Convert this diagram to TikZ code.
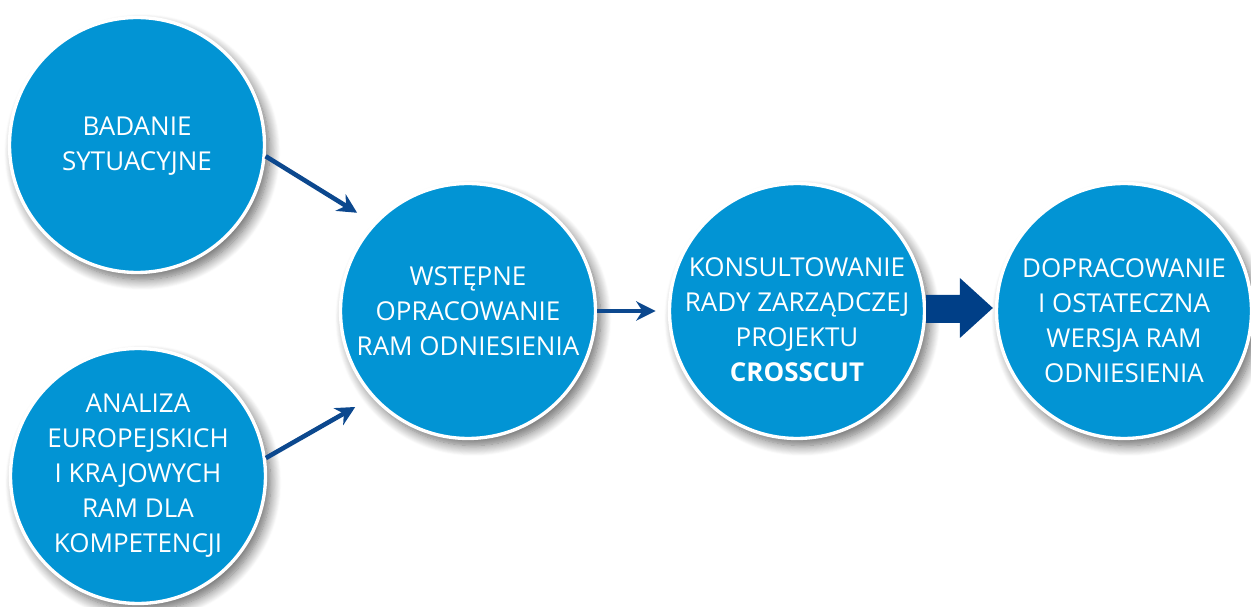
\documentclass[tikz,border=0pt]{standalone}
\usepackage{fontspec}
\setmainfont{Open Sans}
\usetikzlibrary{calc,arrows.meta,shadows.blur}
\definecolor{circblue}{RGB}{2,148,212}
\definecolor{navy}{RGB}{0,63,135}
\definecolor{linknavy}{RGB}{12,72,142}
\tikzset{
  circ/.style={circle, fill=circblue, draw=white, line width=1.9pt, minimum size=5.1cm, inner sep=0pt,
    blur shadow={shadow xshift=3pt, shadow yshift=-4pt, shadow blur radius=6pt, shadow blur steps=12, shadow opacity=60}},
  lbl/.style={text=white, align=center, font=\fontsize{14.8}{19.9}\selectfont},
  link/.style={draw=linknavy, line width=2.6pt, -{Stealth[length=11pt, width=11pt, inset=3.5pt]}}
}
\begin{document}
\begin{tikzpicture}[x=0.02cm, y=-0.02cm]
\useasboundingbox (0,0) rectangle (1251,607);
\node[circ] (bad) at (137,145) {};
\node[circ] (ana) at (138,476) {};
\node[circ] (wst) at (468,311) {};
\node[circ] (kon) at (797,311) {};
\node[circ] (dop) at (1124,311) {};
\node[lbl] (badt) at (137,146) {BADANIE\\SYTUACYJNE};
\node[lbl] (anat) at (138,476) {ANALIZA\\EUROPEJSKICH\\I KRAJOWYCH\\RAM DLA\\KOMPETENCJI};
\node[lbl] (wstt) at (468,311) {WSTĘPNE\\OPRACOWANIE\\RAM ODNIESIENIA};
\node[lbl] (kont) at (797,320) {KONSULTOWANIE\\RADY ZARZĄDCZEJ\\PROJEKTU\\\textbf{CROSSCUT}};
\node[lbl] (dopt) at (1124,321) {DOPRACOWANIE\\I OSTATECZNA\\WERSJA RAM\\ODNIESIENIA};
\draw[link, shorten >=11] (bad.-5) -- (wst.137);
\draw[link, shorten >=11] (ana.8) -- (wst.-138);
\draw[link, shorten >=7] (wst.east) -- (kon.west);
\fill[navy] ($(kon.east)+(0,-16)$) -- ($(dop.west)+(-35,-16)$) -- ($(dop.west)+(-35,-33)$)
  -- ($(dop.west)+(-2,-3)$) -- ($(dop.west)+(-35,27)$) -- ($(dop.west)+(-35,12)$)
  -- ($(kon.east)+(0,12)$) -- cycle;
\end{tikzpicture}
\end{document}
